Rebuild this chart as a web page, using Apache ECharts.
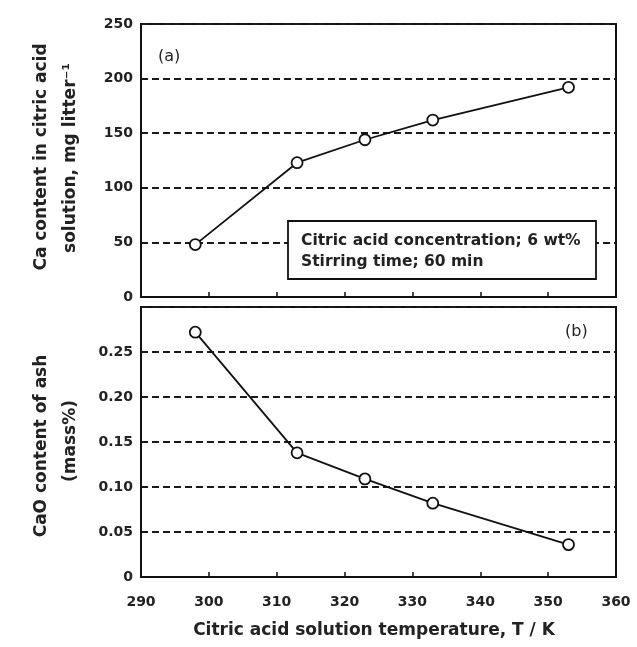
<!DOCTYPE html>
<html><head><meta charset="utf-8">
<script src="https://cdn.jsdelivr.net/npm/echarts@6/dist/echarts.min.js"></script>
<style>html,body{margin:0;padding:0;background:#fff}#c{width:637px;height:647px}</style>
</head><body><div id="c"></div>
<script>
var temps = [298, 313, 323, 333, 353];
var caContent = [48, 123, 144, 162, 192];
var caoAsh = [0.272, 0.138, 0.109, 0.082, 0.036];
var xTicks = [290, 300, 310, 320, 330, 340, 350, 360];

var FONT = '"DejaVu Sans", sans-serif';
var chart = echarts.init(document.getElementById('c'));
function pairs(xs, ys){ return xs.map(function(x,i){ return [x, ys[i]]; }); }
var dashed = {show:true, lineStyle:{color:'#1a1a1a', type:[7,4], width:2}};
var xBase = {
  type:'value', min:xTicks[0], max:xTicks[xTicks.length-1], interval:10,
  axisLine:{show:true, onZero:false, lineStyle:{color:'#111', width:2}},
  axisTick:{show:true, inside:true, length:5, lineStyle:{color:'#111', width:1.5}},
  splitLine:{show:false}
};
var yBase = {
  type:'value',
  axisLine:{show:true, lineStyle:{color:'#111', width:2}},
  axisTick:{show:false},
  splitLine:dashed,
  axisLabel:{color:'#222', fontFamily:FONT, fontWeight:'bold', fontSize:14, margin:8}
};
var option = {
  animation:false,
  backgroundColor:'#fff',
  grid:[
    {left:141, right:21, top:24, height:273, show:true, borderColor:'#111', borderWidth:2},
    {left:141, right:21, top:307, height:270, show:true, borderColor:'#111', borderWidth:2}
  ],
  xAxis:[
    Object.assign({}, xBase, {gridIndex:0, axisLabel:{show:false}}),
    Object.assign({}, xBase, {gridIndex:1, axisLabel:{show:true, color:'#222', fontFamily:FONT, fontWeight:'bold', fontSize:14, margin:18}})
  ],
  yAxis:[
    Object.assign({}, yBase, {gridIndex:0, min:0, max:250, interval:50}),
    Object.assign({}, yBase, {gridIndex:1, min:0, max:0.30, interval:0.05,
      axisLabel:Object.assign({}, yBase.axisLabel, {formatter:function(v){ if (v > 0.29) return ''; return v===0 ? '0' : v.toFixed(2); }})})
  ],
  series:[
    {type:'line', xAxisIndex:0, yAxisIndex:0, data:pairs(temps, caContent),
     symbol:'circle', symbolSize:11, showAllSymbol:true,
     lineStyle:{color:'#111', width:1.8}, itemStyle:{color:'#fff', borderColor:'#111', borderWidth:1.8}},
    {type:'line', xAxisIndex:1, yAxisIndex:1, data:pairs(temps, caoAsh),
     symbol:'circle', symbolSize:11, showAllSymbol:true,
     lineStyle:{color:'#111', width:1.8}, itemStyle:{color:'#fff', borderColor:'#111', borderWidth:1.8}}
  ],
  graphic:[
    {type:'text', x:158, y:57, style:{text:'(a)', font:'16px '+FONT, fill:'#222', textVerticalAlign:'middle'}},
    {type:'text', x:565, y:332, style:{text:'(b)', font:'16px '+FONT, fill:'#222', textVerticalAlign:'middle'}},
    {type:'rect', shape:{x:288, y:221, width:308, height:58}, style:{fill:'#fff', stroke:'#111', lineWidth:1.8}, z:10},
    {type:'text', x:301, y:241, z:11, style:{text:'Citric acid concentration; 6 wt%', font:'bold 15.5px '+FONT, fill:'#222', textVerticalAlign:'middle'}},
    {type:'text', x:301, y:262, z:11, style:{text:'Stirring time; 60 min', font:'bold 15.5px '+FONT, fill:'#222', textVerticalAlign:'middle'}},
    {type:'text', x:42, y:157, rotation:Math.PI/2, style:{text:'Ca content in citric acid', font:'bold 17px '+FONT, fill:'#222', textAlign:'center', textVerticalAlign:'middle'}},
    {type:'text', x:71, y:158, rotation:Math.PI/2, style:{text:'solution, mg litter\u207B\u00B9', font:'bold 17px '+FONT, fill:'#222', textAlign:'center', textVerticalAlign:'middle'}},
    {type:'text', x:42, y:446, rotation:Math.PI/2, style:{text:'CaO content of ash', font:'bold 17px '+FONT, fill:'#222', textAlign:'center', textVerticalAlign:'middle'}},
    {type:'text', x:71, y:441, rotation:Math.PI/2, style:{text:'(mass%)', font:'bold 17px '+FONT, fill:'#222', textAlign:'center', textVerticalAlign:'middle'}},
    {type:'text', x:374, y:631, style:{text:'Citric acid solution temperature, T / K', font:'bold 17px '+FONT, fill:'#222', textAlign:'center', textVerticalAlign:'middle'}}
  ]
};
chart.setOption(option);
</script></body></html>
